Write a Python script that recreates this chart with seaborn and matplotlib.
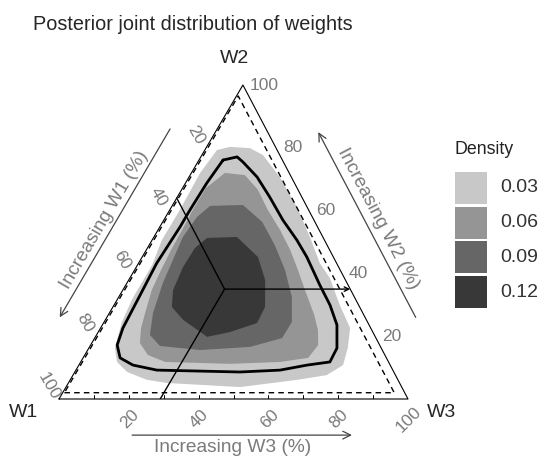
import matplotlib
matplotlib.use('Agg')
import numpy as np
import matplotlib.pyplot as plt
import matplotlib.patches as mpatches
import seaborn as sns

# legend of the density levels
density_labels = ['0.03', '0.06', '0.09', '0.12']
density_colors = ['#c8c8c8', '#959595', '#666666', '#383838']

# filled density regions, in % (W1 = 100 - W2 - W3)
lvl1_w2 = [79.3, 80.3, 79.9, 77.7, 70.7, 61.1, 51.6, 43.3, 38.5, 29.9, 22.6, 16.2, 10.8, 7.6,
           6.1, 3.8, 5.1, 6.1, 8.6, 11.8, 16.2, 24.5, 32.2, 42.7, 50.6, 60.2, 72.0]
lvl1_w3 = [3.5, 6.7, 12.6, 17.5, 26.0, 36.0, 44.7, 51.9, 57.3, 64.7, 71.5, 74.2, 75.7, 72.7,
           65.0, 49.9, 28.3, 22.0, 15.0, 10.4, 7.5, 5.1, 4.2, 4.2, 2.8, 2.9, 2.5]

lvl2_w2 = [72.0, 71.3, 66.6, 60.2, 53.8, 47.5, 41.1, 34.7, 26.8, 22.0, 17.2, 13.1, 11.8,
           11.2, 11.8, 14.0, 17.8, 22.6, 28.3, 34.7, 41.1, 47.5, 53.8, 60.2, 67.2]
lvl2_w3 = [9.6, 15.7, 21.9, 28.1, 35.0, 41.2, 46.8, 52.2, 59.0, 62.6, 65.2, 64.5, 57.1,
           43.1, 24.2, 18.1, 13.8, 11.6, 10.0, 8.3, 7.6, 7.1, 6.9, 6.6, 6.7]

lvl3_w2 = [61.5, 61.8, 56.4, 49.0, 41.1, 32.5, 24.5, 19.4, 16.6, 15.6, 16.9, 20.4, 27.4,
           36.9, 44.3, 51.6, 58.0]
lvl3_w3 = [10.9, 20.1, 28.5, 36.0, 43.1, 49.6, 53.8, 53.7, 46.0, 32.2, 20.0, 15.3, 12.5,
           10.3, 9.3, 8.3, 9.0]

lvl4_w2 = [51.3, 51.6, 45.2, 37.9, 29.3, 24.2, 21.3, 19.8, 25.2, 29.3, 34.7, 42.0, 48.1]
lvl4_w3 = [15.4, 23.8, 33.2, 39.1, 43.6, 44.0, 37.7, 32.0, 22.3, 16.9, 14.4, 13.4, 13.6]

# thick black contour
hpd_w2 = [76.1, 77.1, 75.5, 70.7, 64.3, 57.0, 50.6, 45.2, 36.3, 29.9, 23.6, 16.2, 11.8,
          10.8, 9.2, 8.6, 9.2, 10.8, 13.1, 17.2, 22.6, 33.1, 43.3, 54.8, 60.2, 68.8]
hpd_w3 = [6.9, 10.4, 12.9, 19.5, 26.5, 34.1, 41.5, 47.2, 55.6, 61.9, 67.2, 71.1, 71.4,
          65.4, 58.5, 47.3, 23.2, 15.5, 10.6, 7.6, 6.4, 5.8, 5.2, 5.8, 5.8, 6.1]

# posterior mean and lower bounds of the weights (%)
mean_w1, mean_w2, mean_w3 = 36, 35, 29
min_w1, min_w2, min_w3 = 3, 2, 0.5

tick_values = [20, 40, 60, 80, 100]

APEX_X = 0.527  # apex is slightly right of the middle in the original


def tern(w2, w3):
    w2 = np.asarray(w2, float) / 100
    w3 = np.asarray(w3, float) / 100
    return w3 + APEX_X * w2, w2


sns.set_style('white')
plt.rcParams['font.family'] = ['Liberation Sans', 'DejaVu Sans']

W, H = 542, 459
fig = plt.figure(figsize=(W / 100, H / 100), dpi=100)
ax = fig.add_axes([59 / W, 1 - 399 / H, 349 / W, 314 / H])
ax.axis('off')

# filled density regions
regions = [(lvl1_w2, lvl1_w3), (lvl2_w2, lvl2_w3), (lvl3_w2, lvl3_w3), (lvl4_w2, lvl4_w3)]
for (w2, w3), c in zip(regions, density_colors):
    x, y = tern(w2, w3)
    ax.fill(x, y, color=c, lw=0, zorder=1)

# thick contour line
x, y = tern(hpd_w2 + hpd_w2[:1], hpd_w3 + hpd_w3[:1])
sns.lineplot(x=x, y=y, sort=False, estimator=None, color='black', lw=2, ax=ax, zorder=3)

# triangle
x, y = tern([0, 0, 100, 0], [0, 100, 0, 0])
ax.plot(x, y, color='black', lw=0.8, zorder=4, clip_on=False)

# dashed constraint region
dw2 = [min_w2, min_w2, 100 - min_w1 - min_w3, min_w2]
dw3 = [min_w3, 100 - min_w1 - min_w2, min_w3, min_w3]
x, y = tern(dw2, dw3)
ax.plot(x, y, color='black', lw=1, ls=(0, (4, 3)), zorder=4, clip_on=False)

# posterior mean read on each axis
mx, my = tern(mean_w2, mean_w3)
for ex, ey in [tern(100 - mean_w1, 0), tern(0, mean_w3)]:
    ax.plot([mx, ex], [my, ey], color='black', lw=1, zorder=5)
ax.annotate('', xy=tern(mean_w2, 100 - mean_w2), xytext=(mx, my),
            arrowprops=dict(arrowstyle='->', color='black', lw=1, mutation_scale=8,
                            shrinkA=0, shrinkB=0), zorder=5)

# small ticks along the bottom edge
for t in range(10, 100, 10):
    tx, ty = tern(0, t)
    ax.plot([tx, tx], [0, 0.012], color='black', lw=0.7, zorder=4)

ax.set_xlim(0, 1)
ax.set_ylim(0, 1)

gray = '#7a7a7a'
for t in tick_values:
    ax.annotate(str(t), tern(0, t), xytext=(0.7, -14.5), textcoords='offset points', rotation=45,
                rotation_mode='anchor', ha='center', va='center', fontsize=12.5, color=gray,
                annotation_clip=False)
    ax.annotate(str(t), tern(100 - t, 0), xytext=(-7.7, 9.4), textcoords='offset points',
                rotation=-60, rotation_mode='anchor', ha='center', va='center', fontsize=12.5,
                color=gray, annotation_clip=False)
    ax.annotate(str(t), tern(t, 100 - t), xytext=(5, 0), textcoords='offset points',
                ha='left', va='center', fontsize=12.5, color=gray, annotation_clip=False)


def edge_angle(a, b):
    p0 = ax.transData.transform(a)
    p1 = ax.transData.transform(b)
    return np.degrees(np.arctan2(p1[1] - p0[1], p1[0] - p0[0]))


ang_left = edge_angle(tern(0, 0), tern(100, 0))
ang_right = edge_angle(tern(100, 0), tern(0, 100))

arrow_kw = dict(arrowstyle='->', color='#444444', lw=0.9, mutation_scale=14,
                shrinkA=0, shrinkB=0)
# W1
ax.annotate('', xy=tern(26, -13.5), xytext=tern(86, -13.5), arrowprops=arrow_kw,
            annotation_clip=False)
ax.text(*tern(57, -17), 'Increasing W1 (%)', rotation=ang_left, rotation_mode='anchor',
        ha='center', va='center', fontsize=13.8, color=gray)
# W2
ax.annotate('', xy=tern(85, 29.5), xytext=tern(26, 88.5), arrowprops=arrow_kw,
            annotation_clip=False)
ax.text(*tern(57.3, 61.2), 'Increasing W2 (%)', rotation=ang_right, rotation_mode='anchor',
        ha='center', va='center', fontsize=13.8, color=gray)
# W3
ax.annotate('', xy=tern(-11.5, 90), xytext=tern(-11.5, 27), arrowprops=arrow_kw,
            annotation_clip=False)
ax.text(*tern(-15.5, 58), 'Increasing W3 (%)', ha='center', va='center', fontsize=13.8,
        color=gray)

# corner names
ax.annotate('W1', tern(0, 0), xytext=(-25.2, -9.4), textcoords='offset points',
            ha='center', va='center', fontsize=14, annotation_clip=False)
ax.annotate('W3', tern(0, 100), xytext=(23.8, -9.4), textcoords='offset points',
            ha='center', va='center', fontsize=14, annotation_clip=False)
ax.annotate('W2', tern(100, 0), xytext=(-5.8, 19.4), textcoords='offset points',
            ha='center', va='center', fontsize=14, annotation_clip=False)

fig.text(33 / W, 1 - 25 / H, 'Posterior joint distribution of weights', ha='left',
         va='center', fontsize=14.3)

# legend
fig.text(455 / W, 1 - 150 / H, 'Density', ha='left', va='center', fontsize=12.8, color='#222222')
for i, (lab, c) in enumerate(zip(density_labels, density_colors)):
    top = 172 + i * 34.7
    fig.add_artist(mpatches.Rectangle((455 / W, 1 - (top + 32) / H), 32 / W, 32 / H,
                                      transform=fig.transFigure, color=c, lw=0))
    fig.text(500 / W, 1 - (top + 16) / H, lab, ha='left', va='center', fontsize=14,
             color='#333333')

fig.savefig('out.png', dpi=100)
